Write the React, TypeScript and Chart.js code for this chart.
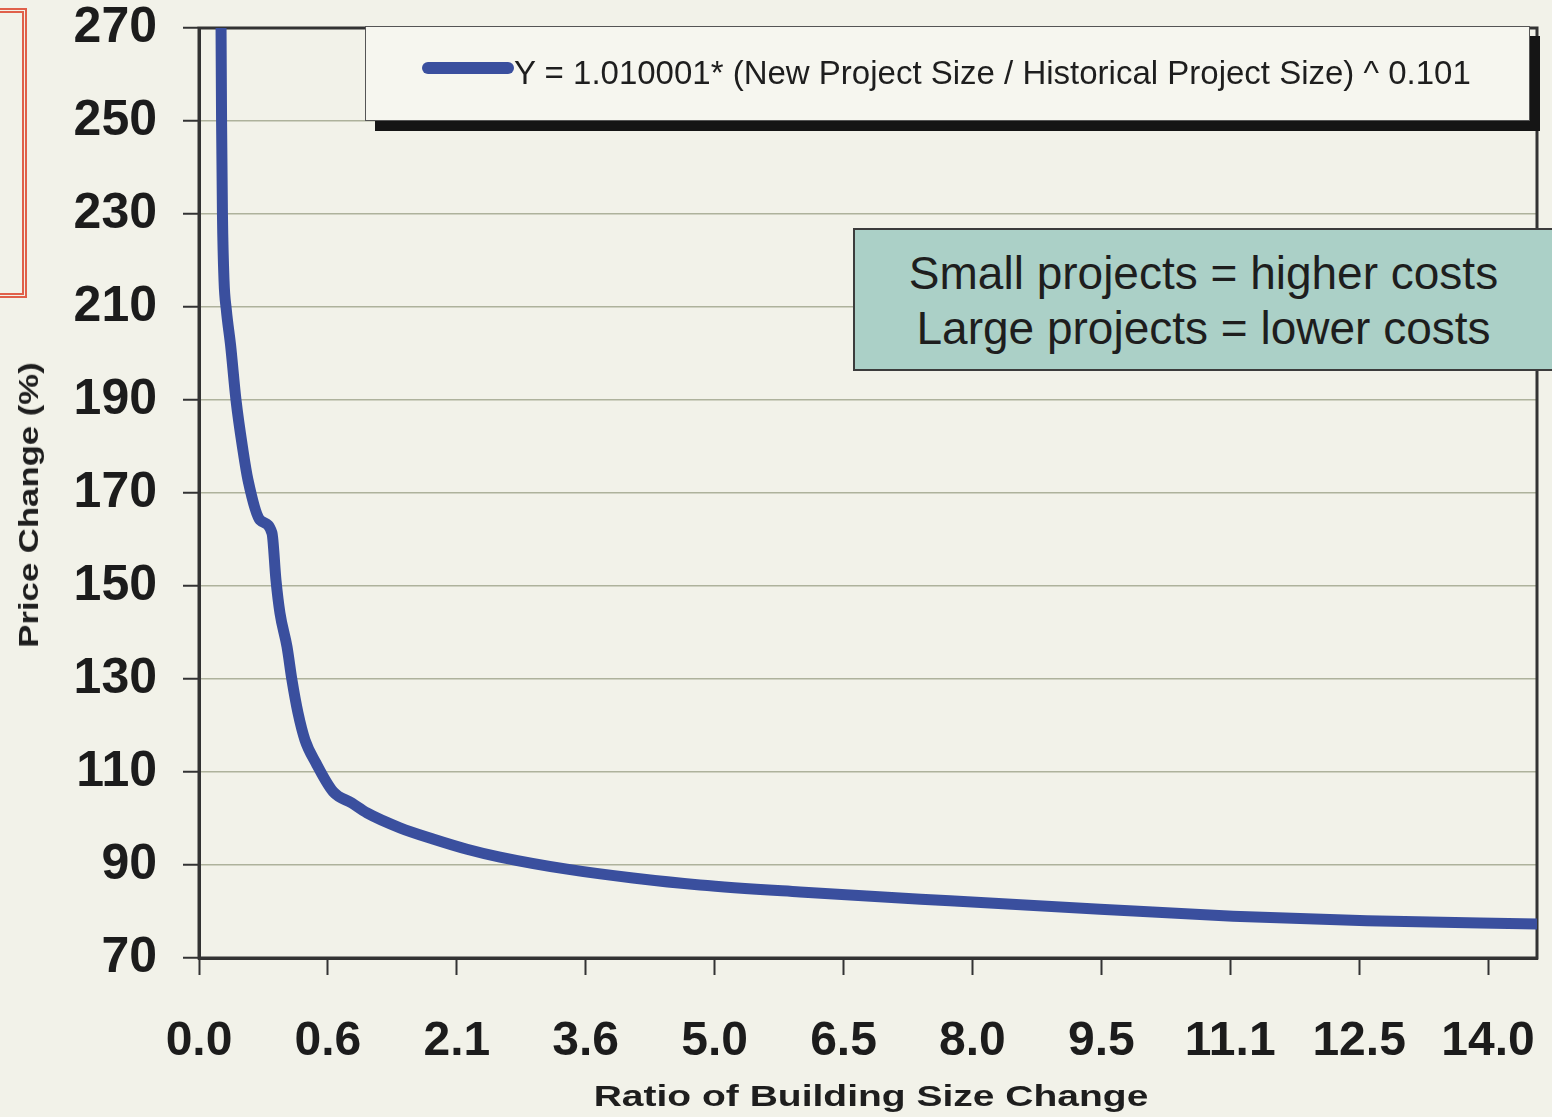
import React, { useEffect, useRef } from "react";
import { Chart, registerables } from "chart.js";

Chart.register(...registerables);

// Category tick labels of the horizontal axis (ratio of building size change)
const tickLabels = ["0.0", "0.6", "2.1", "3.6", "5.0", "6.5", "8.0", "9.5", "11.1", "12.5", "14.0"];
// Position of each curve point along the axis, in units of tick-label slots
const xPositions = [
  0.171, 0.175, 0.182, 0.194, 0.212, 0.245, 0.287, 0.341, 0.38, 0.473, 0.566, 0.597, 0.628,
  0.683, 0.721, 0.768, 0.822, 0.908, 1.04, 1.187, 1.303, 1.559, 1.815, 2.079, 2.335, 2.855, 3.367,
  3.887, 4.663, 5.826, 6.99, 8.022, 9.061, 10.38,
];
// Price change (%)
const priceChange = [
  270.0, 250.2, 229.8, 215.8, 209.4, 201.8, 190.0, 179.2, 172.8, 164.2, 161.4, 151.3, 144.2,
  136.9, 129.8, 122.7, 116.9, 111.9, 105.8, 103.3, 101.2, 98.0, 95.6, 93.4, 91.7, 89.1, 87.2,
  85.7, 84.2, 82.3, 80.5, 79.0, 78.0, 77.3,
];
const yTicks = [70, 90, 110, 130, 150, 170, 190, 210, 230, 250, 270];
const seriesLabel = "Y = 1.010001* (New Project Size / Historical Project Size) ^ 0.101";
const annotationLines = ["Small projects = higher costs", "Large projects = lower costs"];
const xTitle = "Ratio of Building Size Change";
const yTitle = "Price Change (%)";

const FONT = '"Liberation Sans", Arial, Helvetica, sans-serif';
const LINE_COLOR = "#3a4f9e";
const BG = "#f2f2e9";

function zeroPadding(s: any) {
  s.paddingTop = 0;
  s.paddingBottom = 0;
  s.paddingLeft = 0;
  s.paddingRight = 0;
}

export default function App() {
  const canvasRef = useRef<HTMLCanvasElement | null>(null);

  useEffect(() => {
    const canvas = canvasRef.current;
    if (!canvas) return;
    const framePlugin = {
      id: "frame",
      beforeDatasetsDraw(chart: any) {
        const { ctx, chartArea } = chart;
        ctx.save();
        ctx.strokeStyle = "#333";
        ctx.lineWidth = 3;
        ctx.strokeRect(chartArea.left, chartArea.top, chartArea.right - chartArea.left, chartArea.bottom - chartArea.top);
        ctx.restore();
      },
    };
    const chart = new Chart(canvas, {
      type: "line",
      data: {
        datasets: [
          {
            label: seriesLabel,
            data: xPositions.map((x, i) => ({ x, y: priceChange[i] })),
            borderColor: LINE_COLOR,
            backgroundColor: LINE_COLOR,
            borderWidth: 11,
            pointRadius: 0,
            cubicInterpolationMode: "monotone",
            borderCapStyle: "round",
            borderJoinStyle: "round",
            clip: 0,
          },
        ],
      },
      options: {
        animation: false,
        responsive: false,
        devicePixelRatio: 1,
        layout: { padding: { left: 0, top: 28, right: 15, bottom: 0 } },
        plugins: { legend: { display: false }, tooltip: { enabled: false } },
        scales: {
          x: {
            type: "linear",
            min: 0,
            max: 10.38,
            afterBuildTicks: (s: any) => {
              s.ticks = tickLabels.map((_, i) => ({ value: i }));
            },
            afterFit: (s: any) => {
              s.height = 159;
              zeroPadding(s);
            },
            ticks: {
              callback: (v: any) => tickLabels[Math.round(Number(v))],
              font: { family: FONT, size: 48, weight: "bold", lineHeight: 1.2 },
              color: "#1c1c1c",
              padding: 38,
              maxRotation: 0,
              autoSkip: false,
            },
            grid: { drawOnChartArea: false, drawTicks: true, tickLength: 17, tickColor: "#333", tickWidth: 2 },
            border: { display: true, color: "#333", width: 3 },
          },
          y: {
            min: 70,
            max: 270,
            afterBuildTicks: (s: any) => {
              s.ticks = yTicks.map((v) => ({ value: v }));
            },
            afterFit: (s: any) => {
              s.width = 199;
              zeroPadding(s);
            },
            ticks: {
              font: { family: FONT, size: 50, weight: "bold" },
              color: "#1c1c1c",
              padding: 26,
            },
            grid: { color: "#aeb29c", lineWidth: 1.5, tickLength: 16, tickColor: "#333", tickWidth: 2 },
            border: { display: true, color: "#333", width: 3 },
          },
        },
      },
      plugins: [framePlugin],
    } as any);
    return () => chart.destroy();
  }, []);

  return (
    <div
      style={{
        position: "fixed",
        left: 0,
        top: 0,
        width: 1552,
        height: 1117,
        overflow: "hidden",
        background: BG,
        fontFamily: FONT,
        color: "#1e1e1e",
      }}
    >
      <canvas ref={canvasRef} width={1552} height={1117} style={{ position: "absolute", left: 0, top: 0 }} />
      {/* cropped red frame on the far left */}
      <div
        style={{
          position: "absolute",
          left: -12,
          top: 8,
          width: 39,
          height: 290,
          border: "5px double #e0604a",
          boxSizing: "border-box",
        }}
      />
      {/* legend */}
      <div
        style={{
          position: "absolute",
          left: 365,
          top: 26,
          width: 1165,
          height: 95,
          boxSizing: "border-box",
          border: "1.5px solid #555",
          background: "#f6f6ef",
          boxShadow: "10px 10px 0 #151515",
        }}
      >
        <div
          style={{
            position: "absolute",
            left: 56,
            top: 35,
            width: 92,
            height: 12,
            borderRadius: 6,
            background: LINE_COLOR,
          }}
        />
        <div
          style={{
            position: "absolute",
            left: 148,
            top: 29,
            fontSize: 33,
            lineHeight: "34px",
            whiteSpace: "nowrap",
          }}
        >
          {seriesLabel}
        </div>
      </div>
      {/* annotation */}
      <div
        style={{
          position: "absolute",
          left: 853,
          top: 228,
          width: 701,
          height: 143,
          boxSizing: "border-box",
          border: "2px solid #3c3c3c",
          background: "#abd0c7",
          textAlign: "center",
          fontSize: 46,
          lineHeight: "55px",
          paddingTop: 16,
          whiteSpace: "nowrap",
        }}
      >
        {annotationLines.map((l) => (
          <div key={l}>{l}</div>
        ))}
      </div>
      {/* axis titles */}
      <div
        style={{
          position: "absolute",
          left: 871,
          top: 1096,
          transform: "translate(-50%, -50%) scaleX(1.3)",
          fontSize: 30,
          fontWeight: "bold",
          lineHeight: 1,
          whiteSpace: "nowrap",
        }}
      >
        {xTitle}
      </div>
      <div
        style={{
          position: "absolute",
          left: 29,
          top: 505,
          transform: "translate(-50%, -50%) rotate(-90deg) scaleX(1.24)",
          fontSize: 28,
          fontWeight: "bold",
          lineHeight: 1,
          whiteSpace: "nowrap",
        }}
      >
        {yTitle}
      </div>
    </div>
  );
}
